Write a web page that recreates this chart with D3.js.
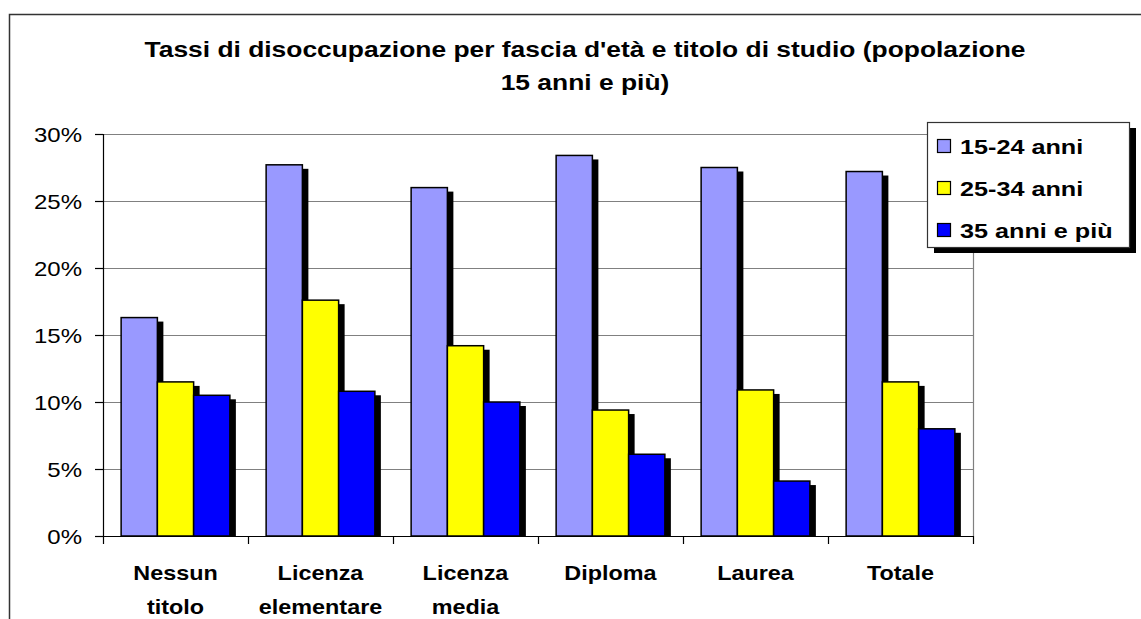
<!DOCTYPE html>
<html>
<head>
<meta charset="utf-8">
<script src="https://cdn.jsdelivr.net/npm/d3@7"></script>
<style>
  body { margin: 0; background: #fff; }
  svg { display: block; font-family: "Liberation Sans", Arial, sans-serif; }
</style>
</head>
<body>
<div id="chart"></div>
<script>
// data (percent)
const categories = ['Nessun titolo', 'Licenza elementare', 'Licenza media', 'Diploma', 'Laurea', 'Totale'];
const categoryLines = [['Nessun', 'titolo'], ['Licenza', 'elementare'], ['Licenza', 'media'], ['Diploma'], ['Laurea'], ['Totale']];
const seriesNames = ['15-24 anni', '25-34 anni', '35 anni e più'];
const values1524 = [16.3, 27.7, 26.0, 28.4, 27.5, 27.2];
const values2534 = [11.5, 17.6, 14.2, 9.4, 10.9, 11.5];
const values35 = [10.5, 10.8, 10.0, 6.1, 4.1, 8.0];
const yTicks = [0, 5, 10, 15, 20, 25, 30];
const titleLines = ["Tassi di disoccupazione per fascia d'età e titolo di studio (popolazione", '15 anni e più)'];

const colors = ['#9999ff', '#ffff00', '#0000ff'];
const seriesValues = [values1524, values2534, values35];

const width = 1141;
const height = 619;
const plot = { left: 103, right: 973, top: 134, bottom: 536 };
const K = 1.2; // text in the original is stretched horizontally

const svg = d3.select('#chart').append('svg')
  .attr('width', width)
  .attr('height', height);

// stretch text horizontally around its anchor point
function hstretch(sel, k) {
  sel.attr('transform', function() {
    const x = +this.getAttribute('x') || 0;
    const y = +this.getAttribute('y') || 0;
    return `translate(${x},${y}) scale(${k},1) translate(${-x},${-y})`;
  });
}

// outer chart border (runs off the picture on the right and bottom)
svg.append('rect')
  .attr('x', 9.5).attr('y', 14.5)
  .attr('width', 1300).attr('height', 800)
  .attr('fill', '#fff')
  .attr('stroke', '#333').attr('stroke-width', 1.5);

const x = d3.scaleBand().domain(categories).range([plot.left, plot.right]);
const bw = x.bandwidth();
const x1 = d3.scaleBand().domain(seriesNames).range([bw / 8, bw * 7 / 8]);
const y = d3.scaleLinear().domain([0, 30]).range([plot.bottom, plot.top]);

// gridlines
svg.append('g')
  .selectAll('line')
  .data(yTicks.filter(d => d > 0))
  .enter().append('line')
  .attr('x1', plot.left - 8).attr('x2', plot.right)
  .attr('y1', d => y(d) + 0.5).attr('y2', d => y(d) + 0.5)
  .attr('stroke', '#808080').attr('stroke-width', 1.2);

// right border of the plot area
svg.append('line')
  .attr('x1', plot.right + 0.5).attr('x2', plot.right + 0.5)
  .attr('y1', plot.top).attr('y2', plot.bottom)
  .attr('stroke', '#808080').attr('stroke-width', 1.2);

// bars
const rows = categories.map((c, i) => ({
  cat: c,
  vals: seriesNames.map((s, j) => ({ series: s, value: seriesValues[j][i], color: colors[j] }))
}));

const groups = svg.append('g').selectAll('g')
  .data(rows)
  .enter().append('g')
  .attr('transform', d => `translate(${x(d.cat)},0)`);

// shadows first, then bars on top
groups.selectAll('rect.shadow')
  .data(d => d.vals)
  .enter().append('rect')
  .attr('class', 'shadow')
  .attr('x', d => x1(d.series) + 6)
  .attr('y', d => y(d.value) + 4)
  .attr('width', x1.bandwidth())
  .attr('height', d => y(0) - y(d.value) - 4)
  .attr('fill', '#000');

groups.selectAll('rect.bar')
  .data(d => d.vals)
  .enter().append('rect')
  .attr('class', 'bar')
  .attr('x', d => x1(d.series))
  .attr('y', d => y(d.value))
  .attr('width', x1.bandwidth())
  .attr('height', d => y(0) - y(d.value))
  .attr('fill', d => d.color)
  .attr('stroke', '#000').attr('stroke-width', 1.5);

// y axis
const yAxis = svg.append('g')
  .attr('transform', `translate(${plot.left},0)`)
  .call(d3.axisLeft(y).tickValues(yTicks).tickSize(8).tickPadding(13).tickFormat(d => d + '%'));
yAxis.select('.domain').attr('stroke', '#000').attr('stroke-width', 1.2);
yAxis.selectAll('.tick line').attr('stroke', '#000').attr('stroke-width', 1.2);
yAxis.selectAll('.tick text')
  .attr('font-size', 20)
  .attr('font-family', '"Liberation Sans", Arial, sans-serif')
  .attr('fill', '#000')
  .each(function() {
    // move the label anchor into x/y so it can be stretched
    const t = d3.select(this);
    t.attr('y', 0).attr('dy', '0.35em');
  })
  .attr('transform', function() {
    const xx = +this.getAttribute('x');
    return `translate(${xx},0) scale(${K},1) translate(${-xx},0)`;
  });

// x axis
svg.append('line')
  .attr('x1', plot.left - 8).attr('x2', plot.right)
  .attr('y1', plot.bottom + 0.5).attr('y2', plot.bottom + 0.5)
  .attr('stroke', '#000').attr('stroke-width', 1.2);

svg.append('g').selectAll('line')
  .data(categories.map(c => x(c)).concat([plot.right]))
  .enter().append('line')
  .attr('x1', d => d + 0.5).attr('x2', d => d + 0.5)
  .attr('y1', plot.bottom).attr('y2', plot.bottom + 8)
  .attr('stroke', '#000').attr('stroke-width', 1.2);

const catLabels = svg.append('g').selectAll('text')
  .data(categories)
  .enter().append('text')
  .attr('x', d => x(d) + bw / 2)
  .attr('y', 580)
  .attr('text-anchor', 'middle')
  .attr('font-size', 20)
  .attr('font-weight', 'bold');

catLabels.selectAll('tspan')
  .data((d, i) => categoryLines[i])
  .enter().append('tspan')
  .attr('x', function() { return this.parentNode.getAttribute('x'); })
  .attr('dy', (d, i) => i === 0 ? 0 : 34)
  .text(d => d);
hstretch(catLabels, 1.17);

// title
const title = svg.append('g').selectAll('text')
  .data(titleLines)
  .enter().append('text')
  .attr('x', 585)
  .attr('y', (d, i) => 57 + i * 33)
  .attr('text-anchor', 'middle')
  .attr('font-size', 22)
  .attr('font-weight', 'bold')
  .text(d => d);
hstretch(title, K);

// legend
const legend = { x: 927, y: 122, w: 202, h: 125 };
svg.append('rect')
  .attr('x', legend.x + 7).attr('y', legend.y + 6)
  .attr('width', legend.w).attr('height', legend.h)
  .attr('fill', '#000');
svg.append('rect')
  .attr('x', legend.x + 0.5).attr('y', legend.y + 0.5)
  .attr('width', legend.w).attr('height', legend.h)
  .attr('fill', '#fff')
  .attr('stroke', '#333').attr('stroke-width', 1.2);

const items = svg.append('g').selectAll('g')
  .data(seriesNames)
  .enter().append('g')
  .attr('transform', (d, i) => `translate(${legend.x + 10},${legend.y + 24 + i * 42})`);

items.append('rect')
  .attr('x', 0.5).attr('y', -6.5)
  .attr('width', 13).attr('height', 13)
  .attr('fill', (d, i) => colors[i])
  .attr('stroke', '#000').attr('stroke-width', 1.2);

const legendText = items.append('text')
  .attr('x', 23)
  .attr('y', 0)
  .attr('dy', '0.36em')
  .attr('font-size', 21)
  .attr('font-weight', 'bold')
  .text(d => d);
hstretch(legendText, K);
</script>
</body>
</html>
